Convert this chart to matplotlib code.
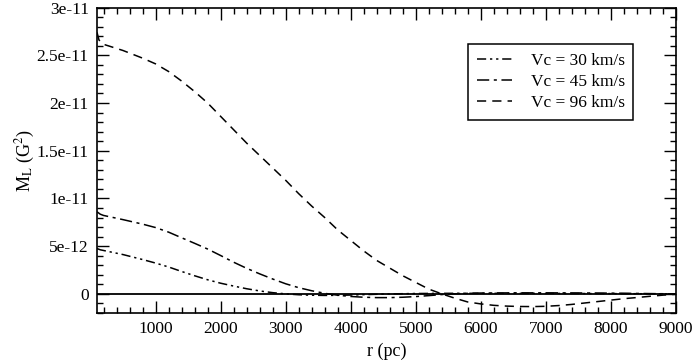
import matplotlib
matplotlib.use("Agg")
import matplotlib.pyplot as plt
from matplotlib.ticker import FixedLocator, FixedFormatter, MultipleLocator

plt.rcParams["font.family"] = ["Liberation Serif", "DejaVu Serif"]
plt.rcParams["mathtext.fontset"] = "stix"

# valores (r em pc, M_L em G^2)
r_30 = [100, 150, 200, 500, 800, 1000, 1200, 1400, 1600, 1800, 2000, 2200, 2400, 2600,
        2800, 3000, 3200, 3400, 3600, 3800, 4000, 4200, 4400, 4600, 5000, 5500, 6000,
        7000, 8000, 9000]
ml_30 = [4.75e-12, 4.62e-12, 4.55e-12, 4.12e-12, 3.60e-12, 3.23e-12, 2.82e-12, 2.35e-12,
         1.90e-12, 1.48e-12, 1.12e-12, 0.82e-12, 0.54e-12, 0.31e-12, 0.13e-12, 0.0,
         -0.09e-12, -0.14e-12, -0.16e-12, -0.15e-12, -0.12e-12, -0.08e-12, -0.04e-12, 0.0,
         0.04e-12, 0.06e-12, 0.06e-12, 0.05e-12, 0.03e-12, 0.0]

r_45 = [100, 150, 200, 500, 800, 1000, 1200, 1400, 1600, 1800, 2000, 2200, 2400, 2600,
        2800, 3000, 3200, 3400, 3600, 3800, 4000, 4200, 4400, 4600, 4800, 5000, 5200,
        5400, 5600, 5800, 6000, 6500, 7000, 7500, 8000, 8500, 9000]
ml_45 = [8.6e-12, 8.35e-12, 8.22e-12, 7.78e-12, 7.31e-12, 6.95e-12, 6.47e-12, 5.88e-12,
         5.30e-12, 4.70e-12, 4.02e-12, 3.32e-12, 2.68e-12, 2.10e-12, 1.56e-12, 1.06e-12,
         0.65e-12, 0.33e-12, 0.06e-12, -0.14e-12, -0.27e-12, -0.35e-12, -0.39e-12,
         -0.39e-12, -0.35e-12, -0.28e-12, -0.18e-12, -0.07e-12, 0.01e-12, 0.06e-12,
         0.09e-12, 0.11e-12, 0.11e-12, 0.10e-12, 0.08e-12, 0.04e-12, 0.0]

r_96 = [100, 130, 200, 500, 800, 1000, 1200, 1400, 1600, 1800, 2000, 2200, 2400, 2600,
        2800, 3000, 3200, 3400, 3600, 3800, 4000, 4200, 4400, 4600, 4800, 5000, 5200,
        5400, 5600, 5800, 6000, 6200, 6400, 6600, 6800, 7000, 7200, 7400, 7600, 7800,
        8000, 8200, 8400, 8600, 8800, 9000]
ml_96 = [2.74e-11, 2.66e-11, 2.615e-11, 2.55e-11, 2.47e-11, 2.41e-11, 2.33e-11, 2.23e-11,
         2.12e-11, 2.00e-11, 1.86e-11, 1.72e-11, 1.58e-11, 1.45e-11, 1.32e-11, 1.19e-11,
         1.05e-11, 0.92e-11, 0.80e-11, 0.67e-11, 0.56e-11, 0.45e-11, 0.35e-11, 0.27e-11,
         0.19e-11, 0.12e-11, 0.05e-11, 0.0, -0.045e-11, -0.085e-11, -0.105e-11,
         -0.12e-11, -0.128e-11, -0.132e-11, -0.133e-11, -0.13e-11, -0.122e-11, -0.11e-11,
         -0.095e-11, -0.08e-11, -0.065e-11, -0.05e-11, -0.038e-11, -0.025e-11,
         -0.013e-11, -0.004e-11]

labels = ["Vc = 30 km/s", "Vc = 45 km/s", "Vc = 96 km/s"]

xticks = [1000, 2000, 3000, 4000, 5000, 6000, 7000, 8000, 9000]
yticks = [0, 5e-12, 1e-11, 1.5e-11, 2e-11, 2.5e-11, 3e-11]
ytick_labels = ["0", "5e-12", "1e-11", "1.5e-11", "2e-11", "2.5e-11", "3e-11"]

fig = plt.figure(figsize=(6.95, 3.6), dpi=100)
ax = fig.add_axes([0.1396, 0.1306, 0.8331, 0.8484])

ax.axhline(0, color="black", lw=1.3, zorder=1)
ax.plot(r_30, ml_30, color="black", lw=1.1, ls=(0, (6, 2.5, 1.5, 2.5, 1.5, 2.5)), label=labels[0])
ax.plot(r_45, ml_45, color="black", lw=1.1, ls=(0, (8, 3, 2, 3)), label=labels[1])
ax.plot(r_96, ml_96, color="black", lw=1.1, ls=(0, (6, 4)), label=labels[2])

ax.set_xlim(100, 9000)
ax.set_ylim(-2e-12, 3e-11)
ax.xaxis.set_major_locator(FixedLocator(xticks))
ax.xaxis.set_minor_locator(MultipleLocator(200))
ax.yaxis.set_major_locator(FixedLocator(yticks))
ax.yaxis.set_major_formatter(FixedFormatter(ytick_labels))
ax.yaxis.set_minor_locator(MultipleLocator(1e-12))
ax.yaxis.get_offset_text().set_visible(False)

ax.tick_params(which="both", direction="in", top=True, right=True, labelsize=12.5, width=1.0)
ax.tick_params(which="major", length=8.5, pad=6)
ax.tick_params(which="minor", length=4)
for s in ax.spines.values():
    s.set_linewidth(1.2)

ax.set_xlabel("r (pc)", fontsize=13, labelpad=4)
ax.set_ylabel(r"M$_\mathrm{L}$ (G$^2$)", fontsize=13, labelpad=0)

leg = ax.legend(loc="upper left", bbox_to_anchor=(0.641, 0.881), fontsize=12.5,
                frameon=True, fancybox=False, edgecolor="black", framealpha=1,
                handlelength=2.0, handletextpad=1.1, borderpad=0.5, labelspacing=0.3,
                borderaxespad=0)
leg.get_frame().set_linewidth(1.1)

fig.savefig("out.png", dpi=100, facecolor="white")
